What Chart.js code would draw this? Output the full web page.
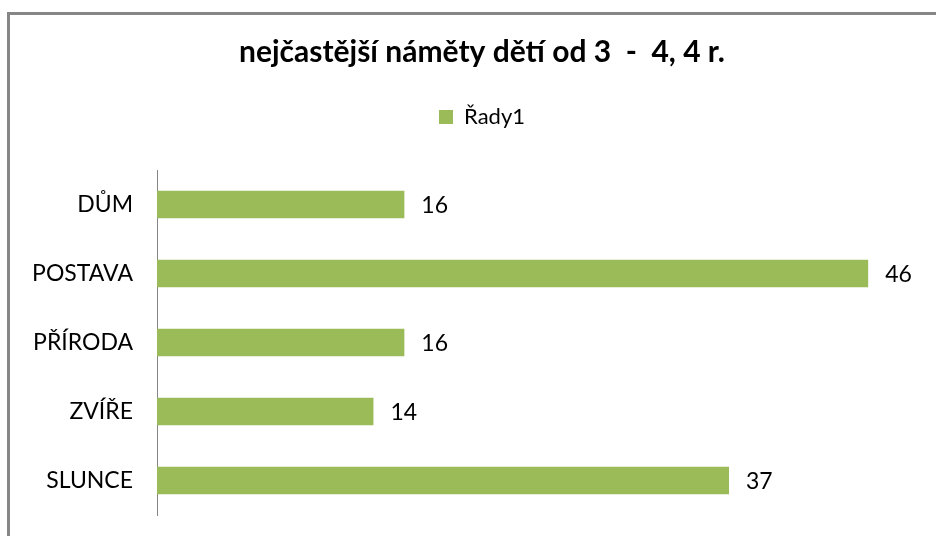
<!DOCTYPE html>
<html lang="cs">
<head>
<meta charset="utf-8">
<title>nejčastější náměty dětí</title>
<script src="https://cdn.jsdelivr.net/npm/chart.js@4/dist/chart.umd.min.js"></script>
<style>
  html, body { margin: 0; padding: 0; background: #ffffff; }
  #wrap { width: 936px; height: 536px; position: relative; }
</style>
</head>
<body>
<div id="wrap"><canvas id="c" width="936" height="536"></canvas></div>
<script>
// Categories and counts
const categories = ['DŮM', 'POSTAVA', 'PŘÍRODA', 'ZVÍŘE', 'SLUNCE'];
const values = [16, 46, 16, 14, 37];
const seriesName = 'Řady1';
const chartTitle = 'nejčastější náměty dětí od 3  -  4, 4 r.';

const FONT = 'Lato, "Open Sans", sans-serif';
const BAR_COLOR = '#9BBB59';
const FRAME_COLOR = '#868686';

// White background plus the outer frame (top and left edges)
const framePlugin = {
  id: 'frame',
  beforeDraw(chart) {
    const ctx = chart.ctx;
    ctx.save();
    ctx.fillStyle = '#ffffff';
    ctx.fillRect(0, 0, chart.width, chart.height);
    ctx.fillStyle = FRAME_COLOR;
    ctx.fillRect(7, 12, chart.width - 7, 3);
    ctx.fillRect(7, 12, 3, chart.height - 12);
    ctx.restore();
  }
};

// Value labels to the right of each bar
const valueLabels = {
  id: 'valueLabels',
  afterDatasetsDraw(chart) {
    const ctx = chart.ctx;
    const meta = chart.getDatasetMeta(0);
    ctx.save();
    ctx.font = '23px ' + FONT;
    ctx.fillStyle = '#000000';
    ctx.textAlign = 'left';
    ctx.textBaseline = 'middle';
    meta.data.forEach((bar, i) => {
      ctx.fillText(String(chart.data.datasets[0].data[i]), bar.x + 17, bar.y + 1);
    });
    ctx.restore();
  }
};

new Chart(document.getElementById('c'), {
  type: 'bar',
  data: {
    labels: categories,
    datasets: [{
      label: seriesName,
      data: values,
      backgroundColor: BAR_COLOR,
      borderWidth: 0,
      categoryPercentage: 1,
      barPercentage: 0.4
    }]
  },
  options: {
    indexAxis: 'y',
    responsive: false,
    animation: false,
    layout: { padding: { left: 28, right: 0, top: 0, bottom: 21 } },
    scales: {
      x: {
        position: 'top',
        min: 0,
        max: 50,
        grid: { display: false, drawTicks: false },
        border: { display: false },
        ticks: { display: false },
        // empty band between the legend and the bars
        afterFit(scale) { scale.height = 32; }
      },
      y: {
        afterFit(scale) {
          scale.width = 129;
          scale.paddingTop = 0;
          scale.paddingBottom = 0;
        },
        grid: { display: false, drawTicks: false },
        border: { display: true, color: FRAME_COLOR, width: 1 },
        ticks: {
          color: '#000000',
          padding: 24,
          font: { family: FONT, size: 23 }
        }
      },
      // narrow empty margin on the right of the plot
      yRight: {
        axis: 'y',
        type: 'category',
        position: 'right',
        grid: { display: false, drawTicks: false },
        border: { display: false },
        ticks: { display: false },
        afterFit(scale) {
          scale.width = 6;
          scale.paddingTop = 0;
          scale.paddingBottom = 0;
        }
      }
    },
    plugins: {
      title: {
        display: true,
        text: chartTitle,
        color: '#000000',
        font: { family: FONT, size: 30, weight: 'bold', lineHeight: 1 },
        padding: { top: 37, bottom: 0 }
      },
      legend: {
        display: true,
        position: 'top',
        labels: {
          color: '#000000',
          font: { family: FONT, size: 22 },
          boxWidth: 14,
          boxHeight: 14,
          padding: 39
        }
      },
      tooltip: { enabled: false }
    }
  },
  plugins: [framePlugin, valueLabels]
});
</script>
</body>
</html>
